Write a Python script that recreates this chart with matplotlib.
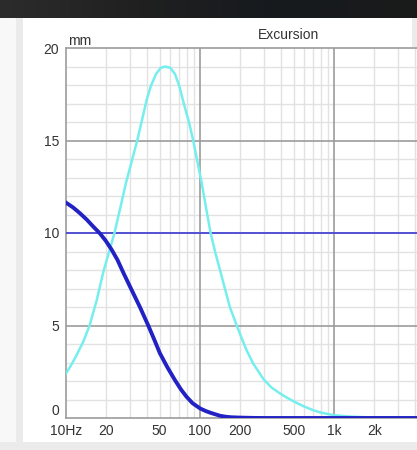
import numpy as np
import matplotlib
matplotlib.use("Agg")
import matplotlib.pyplot as plt
from matplotlib.patches import Rectangle
from matplotlib.ticker import FixedLocator, NullFormatter

# ---- data ----
title = "Excursion"
unit = "mm"
xtick_vals = [10, 20, 50, 100, 200, 500, 1000, 2000]
xtick_labels = ["10Hz", "20", "50", "100", "200", "500", "1k", "2k"]
ytick_vals = [0, 5, 10, 15, 20]
xmax_level = 10.0

cyan_f = [10, 11, 12, 13.5, 15, 17, 19, 21, 23, 25.5, 28, 31, 34, 36.5, 40, 43, 47, 51, 55,
          60, 65, 70, 77, 83, 89, 96, 103, 111, 120, 130, 141, 154, 167, 188, 205, 223,
          250, 297, 340, 395, 450, 500, 590, 700, 800, 1000, 1300, 1600, 2000, 4200]
cyan_v = [2.4, 2.9, 3.4, 4.15, 5.0, 6.4, 7.9, 9.0, 10.0, 11.4, 12.7, 13.9, 15.0, 15.95,
          17.2, 17.95, 18.6, 18.93, 19.0, 18.93, 18.6, 17.95, 16.8, 15.95, 15.0, 13.8,
          12.7, 11.35, 10.0, 8.95, 8.0, 6.95, 6.0, 5.0, 4.3, 3.65, 2.93, 2.11, 1.66, 1.33,
          1.08, 0.9, 0.64, 0.42, 0.29, 0.15, 0.08, 0.05, 0.03, 0.01]

blue_f = [10, 11.3, 12.7, 14.3, 16, 17.9, 19.8, 21.9, 24.2, 26.8, 30.9, 35.6, 41.1, 45.5,
          50.2, 57, 65, 72, 79.3, 88, 100, 110, 120, 141, 155, 170, 200, 250, 300, 4200]
blue_v = [11.64, 11.38, 11.07, 10.72, 10.34, 9.98, 9.58, 9.1, 8.55, 7.85, 6.92, 6.0, 5.0,
          4.25, 3.5, 2.75, 2.05, 1.55, 1.15, 0.8, 0.52, 0.38, 0.28, 0.12, 0.07, 0.04,
          0.02, 0.005, 0.0, 0.0]

# ---- figure ----
W, H = 417, 450
plt.rcParams["font.family"] = ["Liberation Sans", "DejaVu Sans"]
fig = plt.figure(figsize=(W / 100, H / 100), dpi=100)
fig.patch.set_facecolor("#ebebeb")

def frect(x0, y0, x1, y1, color):
    # pixel coords, y from top
    fig.patches.append(Rectangle((x0 / W, 1 - y1 / H), (x1 - x0) / W, (y1 - y0) / H,
                                 transform=fig.transFigure, facecolor=color,
                                 edgecolor="none", zorder=-5))

frect(0, 18, 16, 442, "#f8f8f8")
frect(23, 18, 417, 442, "#ffffff")
frect(412, 18, 417, 47, "#ebebeb")

# dark top band with gradient
band = fig.add_axes([0, 1 - 18 / H, 1, 18 / H])
grad = np.linspace(0, 1, 256)[None, :]
band.imshow(grad, aspect="auto", cmap=matplotlib.colors.LinearSegmentedColormap.from_list(
    "b", ["#2c2c2c", "#202020", "#161a1e", "#1a1a1a"]), extent=[0, 1, 0, 1])
band.set_axis_off()

x_left, x_right = 66, 417
y_top, y_bot = 48, 418
ax = fig.add_axes([x_left / W, 1 - y_bot / H, (x_right - x_left) / W, (y_bot - y_top) / H])
ax.set_zorder(2)
ax.set_facecolor("white")
ax.set_xscale("log")
decade_px = 134.0
fmax = 10 * 10 ** ((x_right - x_left) / decade_px)
ax.set_xlim(10, fmax)
ax.set_ylim(0, 20)

# grid
minor_x = [m * 10 ** d for d in range(1, 4) for m in range(2, 10)]
for f in minor_x:
    if f < fmax:
        ax.axvline(f, color="#e2e2e2", lw=1.0, zorder=1)
for f in [100, 1000]:
    ax.axvline(f, color="#9c9c9c", lw=1.2, zorder=2)
for v in range(1, 20):
    if v % 5 == 0:
        ax.axhline(v, color="#9c9c9c", lw=1.2, zorder=2)
    else:
        ax.axhline(v, color="#e2e2e2", lw=1.0, zorder=1)

ax.axhline(xmax_level, color="#4444dd", lw=1.2, zorder=3)
ax.plot(cyan_f, cyan_v, color="#76eeee", lw=1.8, zorder=4, solid_joinstyle="round")
ax.plot(blue_f, blue_v, color="#2121c4", lw=2.8, zorder=5, solid_joinstyle="round")

for s in ["left", "top", "bottom"]:
    ax.spines[s].set_color("#9c9c9c")
    ax.spines[s].set_linewidth(1.2)
ax.spines["right"].set_visible(False)

ax.xaxis.set_major_locator(FixedLocator(xtick_vals))
ax.xaxis.set_minor_locator(FixedLocator([]))
ax.xaxis.set_minor_formatter(NullFormatter())
ax.set_xticklabels(xtick_labels)
ax.set_yticks(ytick_vals)
ax.set_yticklabels([str(v) for v in ytick_vals])
ax.tick_params(axis="both", length=0, labelsize=10, labelcolor="#333333")
ax.tick_params(axis="x", pad=4)
ax.tick_params(axis="y", pad=5)
for lab in ax.get_yticklabels():
    if lab.get_text() == "0":
        lab.set_verticalalignment("bottom")

ax.text(0.006, 1.0, unit, transform=ax.transAxes, ha="left", va="bottom",
        fontsize=10, color="#333333")
fig.text(288.7 / W, 1 - 35 / H, title, ha="center", va="center", fontsize=10,
         color="#333333")

fig.savefig("out.png", dpi=100, facecolor=fig.get_facecolor())
